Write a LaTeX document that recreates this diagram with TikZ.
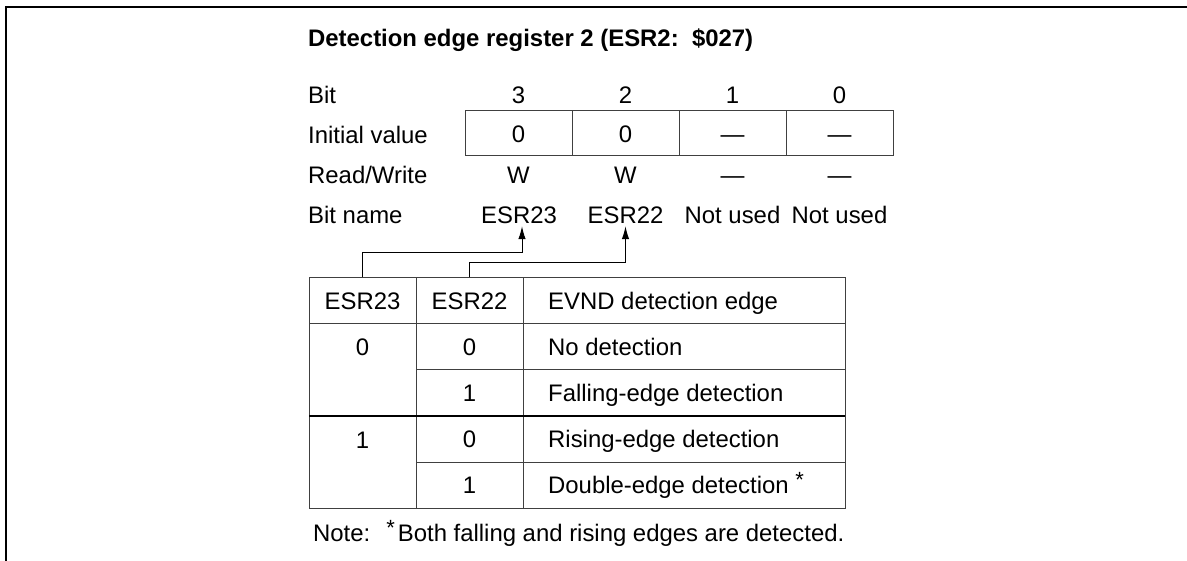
\documentclass[tikz,border=0pt]{standalone}
\usepackage{fontspec}
\setmainfont{Liberation Sans}
\usetikzlibrary{arrows.meta,calc}
\newcommand{\supast}{\raisebox{6pt}{\fontsize{22}{22}\selectfont *}}
\begin{document}
\begin{tikzpicture}[x=1pt,y=-1pt,
  txt/.style={inner sep=0pt,text height=17.1pt,text depth=0pt,font=\fontsize{23.9}{28}\selectfont},
  lbl/.style={txt,anchor=west},
  cen/.style={txt,anchor=center},
  bitname/.style={cen,inner ysep=2.5pt},
  cell/.style={cen,draw=black!75,line width=1pt},
  regcell/.style={cell,minimum width=107pt,minimum height=45pt},
  gridline/.style={draw=black!75,line width=1pt},
  heavyrule/.style={draw=black,line width=1.8pt},
  framerule/.style={draw=black,line width=1.5pt},
  arr/.style={draw=black,line width=1pt,-{Latex[length=13pt,width=7.5pt]}}
]
\useasboundingbox (0,0) rectangle (1187,561);
% frame
\draw[framerule] (6,561) -- (6,7) -- (1187,7);
% title
\node[lbl] (title) at (308,38) {\bfseries Detection edge register 2 (ESR2:\ \ \$027)};
% row labels
\node[lbl] (lbit) at (308,95) {Bit};
\node[lbl] (linit) at (308,135) {Initial value};
\node[lbl] (lrw) at (308,175) {Read/Write};
\node[lbl] (lname) at (308,215) {Bit name};
% bit numbers
\node[cen] (b3) at (518.5,95) {3};
\node[cen] (b2) at (625.5,95) {2};
\node[cen] (b1) at (732.5,95) {1};
\node[cen] (b0) at (839.5,95) {0};
% initial values
\node[regcell] (iv3) at (518.5,133.5) {0};
\node[regcell] (iv2) at (625.5,133.5) {0};
\node[regcell] (iv1) at (732.5,133.5) {---};
\node[regcell] (iv0) at (839.5,133.5) {---};
% read/write
\node[cen] (rw3) at (518.5,175) {W};
\node[cen] (rw2) at (625.5,175) {W};
\node[cen] (rw1) at (732.5,175) {---};
\node[cen] (rw0) at (839.5,175) {---};
% bit names
\node[bitname] (bn23) at (519,215) {ESR23};
\node[bitname] (bn22) at (625.5,215) {ESR22};
\node[bitname] (bn1) at (732.5,215) {Not used};
\node[bitname] (bn0) at (839.5,215) {Not used};
% table header
\node[cell,minimum width=107pt,minimum height=46pt] (h23) at (362.5,301) {ESR23};
\node[cell,minimum width=107pt,minimum height=46pt] (h22) at (469.5,301) {ESR22};
\node[cell,minimum width=322pt,minimum height=46pt] (hd) at (684,301) {};
\node[lbl] (hdt) at (548,301) {EVND detection edge};
% table body lines
\draw[gridline] (309,324) rectangle (845,508);
\draw[gridline] (416,324) -- (416,508);
\draw[gridline] (523,324) -- (523,508);
\draw[gridline] (416,370) -- (845,370);
\draw[gridline] (416,462) -- (845,462);
\draw[heavyrule] (309,416) -- (845,416);
% table texts
\node[cen] (a0) at (362.5,347) {0};
\node[cen] (a1) at (362.5,440) {1};
\node[cen] (c00) at (469.5,347) {0};
\node[cen] (c01) at (469.5,393) {1};
\node[cen] (c10) at (469.5,439) {0};
\node[cen] (c11) at (469.5,485) {1};
\node[lbl] (d00) at (548,347) {No detection};
\node[lbl] (d01) at (548,393) {Falling-edge detection};
\node[lbl] (d10) at (548,439) {Rising-edge detection};
\node[lbl] (d11) at (548,485) {Double-edge detection \supast};
% note
\node[lbl] (note) at (313,533) {Note:\hspace{16pt}\supast\hspace{3pt}Both falling and rising edges are detected.};
% connectors
\draw[arr] (h23.north) -- ++(0,-25) -| ($(bn23.south)+(3,0)$);
\draw[arr] (h22.north) -- ++(0,-15) -| (bn22.south);
\end{tikzpicture}
\end{document}
